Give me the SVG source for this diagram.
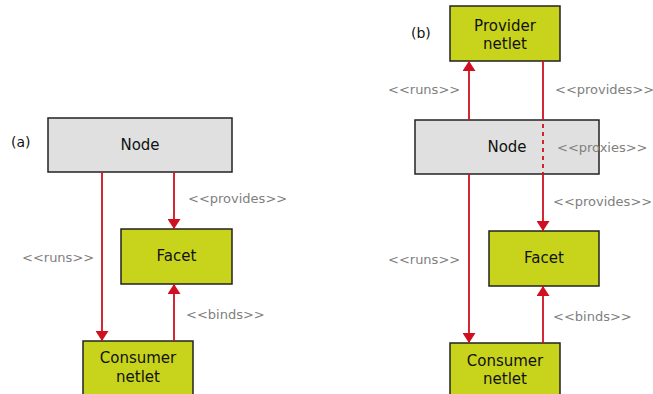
<svg xmlns="http://www.w3.org/2000/svg" width="653" height="394" viewBox="0 0 653 394">
<style>
.node{fill:#e0e0e0;stroke:#222;stroke-width:1.5}
.netlet{fill:#c8d41c;stroke:#222;stroke-width:1.5}
.nt{font-family:"DejaVu Sans",sans-serif;font-size:15px;fill:#111;text-anchor:middle}
.lbl{font-family:"DejaVu Sans",sans-serif;font-size:13px;fill:#808080}
.tag{font-family:"DejaVu Sans",sans-serif;font-size:14px;fill:#111}
.c{stroke:#d01020;stroke-width:1.8;fill:none}
.d{stroke-dasharray:4 4}
</style>
<defs>
<marker id="ah" viewBox="0 0 10 13" refX="10" refY="6.5" markerWidth="10" markerHeight="13" markerUnits="userSpaceOnUse" orient="auto">
<path d="M0,0 L10,6.5 L0,13 z" fill="#d01020"/>
</marker>
</defs>
<text class="tag" x="11" y="147">(a)</text>
<text class="tag" x="411" y="38">(b)</text>
<g id="a-node"><rect class="node" x="48" y="118" width="184" height="54"/><text class="nt" x="140" y="150">Node</text></g>
<g id="a-facet"><rect class="netlet" x="121" y="229" width="111" height="55"/><text class="nt" x="176.5" y="261">Facet</text></g>
<g id="a-consumer"><rect class="netlet" x="83" y="341" width="110" height="60"/><text class="nt" x="138" y="363">Consumer</text><text class="nt" x="138" y="382">netlet</text></g>
<g id="b-provider"><rect class="netlet" x="450" y="6" width="110" height="55"/><text class="nt" x="505" y="31">Provider</text><text class="nt" x="505" y="49">netlet</text></g>
<g id="b-node"><rect class="node" x="415" y="120" width="184" height="54"/><text class="nt" x="507" y="152">Node</text></g>
<g id="b-facet"><rect class="netlet" x="489" y="231" width="110" height="55"/><text class="nt" x="544" y="263">Facet</text></g>
<g id="b-consumer"><rect class="netlet" x="450" y="343" width="110" height="60"/><text class="nt" x="505" y="366">Consumer</text><text class="nt" x="505" y="384">netlet</text></g>
<g id="connectors">
<line class="c" x1="102" y1="172" x2="102" y2="341" marker-end="url(#ah)"/>
<line class="c" x1="174" y1="172" x2="174" y2="229" marker-end="url(#ah)"/>
<line class="c" x1="174" y1="341" x2="174" y2="284" marker-end="url(#ah)"/>
<line class="c" x1="469" y1="120" x2="469" y2="61" marker-end="url(#ah)"/>
<line class="c" x1="543" y1="61" x2="543" y2="120"/>
<line class="c d" x1="543" y1="124" x2="543" y2="174"/>
<line class="c" x1="543" y1="174" x2="543" y2="231" marker-end="url(#ah)"/>
<line class="c" x1="469" y1="174" x2="469" y2="343" marker-end="url(#ah)"/>
<line class="c" x1="543" y1="343" x2="543" y2="286" marker-end="url(#ah)"/>
</g>
<g id="labels">
<text class="lbl" x="188" y="202.5">&lt;&lt;provides&gt;&gt;</text>
<text class="lbl" x="22" y="261.5">&lt;&lt;runs&gt;&gt;</text>
<text class="lbl" x="186" y="318.5">&lt;&lt;binds&gt;&gt;</text>
<text class="lbl" x="388" y="93.5">&lt;&lt;runs&gt;&gt;</text>
<text class="lbl" x="555" y="93.5">&lt;&lt;provides&gt;&gt;</text>
<text class="lbl" x="557" y="151.5">&lt;&lt;proxies&gt;&gt;</text>
<text class="lbl" x="553" y="205.5">&lt;&lt;provides&gt;&gt;</text>
<text class="lbl" x="388" y="263.5">&lt;&lt;runs&gt;&gt;</text>
<text class="lbl" x="553" y="320.5">&lt;&lt;binds&gt;&gt;</text>
</g>
</svg>
